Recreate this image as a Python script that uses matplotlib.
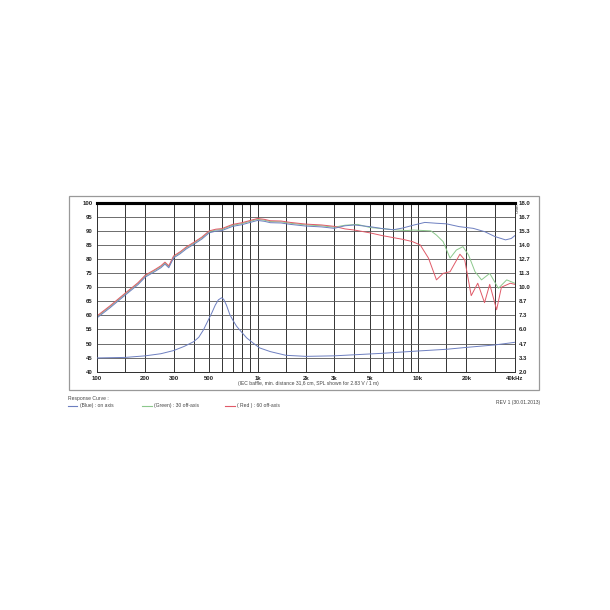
import numpy as np
import matplotlib.pyplot as plt
from matplotlib.patches import Rectangle

plt.rcParams['font.family'] = ['Liberation Sans', 'DejaVu Sans']

# SPL, common part of the three curves (Hz, dB)
low_freq = [100, 120, 150, 180, 200, 230, 250, 265, 280, 300, 330, 360, 400, 450, 500,
            550, 600, 650, 700, 800, 900, 1000, 1100, 1200, 1400, 1600, 2000, 2500, 3000]
low_spl = [59.5, 63.0, 67.6, 71.3, 74.0, 76.0, 77.3, 78.6, 77.3, 80.8, 82.3, 84.0, 85.6, 87.5, 89.7,
           90.3, 90.5, 91.3, 92.0, 92.6, 93.4, 94.1, 93.8, 93.3, 93.2, 92.7, 92.1, 91.8, 91.3]

# on axis (blue)
blue_freq = [3500, 4000, 5000, 6000, 7000, 8000, 9300, 11000, 13000, 15000, 18000,
             22000, 26000, 30000, 35000, 38000, 40000]
blue_spl = [91.8, 92.1, 91.5, 90.8, 90.4, 91.0, 92.0, 93.0, 92.7, 92.5, 91.5,
            90.9, 89.7, 88.0, 86.8, 87.3, 88.3]

# 30 deg off axis (green)
green_freq = [3500, 4200, 5000, 6000, 7000, 8500, 9300, 11000, 12000, 13000, 14300, 15800,
              17300, 19000, 20600, 22600, 24800, 27900, 31600, 35600, 40000]
green_spl = [92.0, 92.3, 91.2, 90.8, 90.4, 90.1, 90.3, 90.1, 90.0, 88.5, 86.2, 80.3,
             83.2, 84.4, 81.4, 75.5, 72.6, 74.9, 69.6, 72.6, 71.4]

# 60 deg off axis (red)
red_freq = [3500, 4000, 5000, 6000, 7000, 8000, 9200, 10300, 11600, 13000, 14300, 15800,
            18200, 19500, 21400, 23500, 25900, 27900, 30800, 33000, 37500, 40000]
red_spl = [90.7, 90.3, 89.3, 88.3, 87.6, 87.0, 86.2, 85.0, 80.3, 72.6, 74.9, 75.5,
           81.7, 79.7, 67.0, 71.4, 64.5, 71.0, 62.0, 70.0, 71.4, 71.0]

# impedance (ohm)
imp_freq = [100, 150, 200, 250, 300, 350, 400, 430, 460, 490, 520, 545, 570, 597, 615, 640,
            672, 700, 740, 800, 855, 940, 1030, 1200, 1500, 2000, 3000, 6000, 10000, 15000,
            20000, 30000, 40000]
imp_ohm = [3.3, 3.35, 3.5, 3.7, 4.0, 4.4, 4.84, 5.25, 5.95, 6.8, 7.6, 8.3, 8.8, 9.0, 8.85, 8.3,
           7.4, 6.9, 6.3, 5.7, 5.2, 4.7, 4.25, 3.9, 3.55, 3.45, 3.5, 3.74, 3.96, 4.12,
           4.3, 4.53, 4.78]

grid_freq = [100, 150, 200, 300, 400, 500, 600, 700, 800, 900, 1000, 1500, 2000, 3000, 4000,
             5000, 6000, 7000, 8000, 9000, 10000, 15000, 20000, 30000, 40000]
xtick_freq = [100, 200, 300, 500, 1000, 2000, 3000, 5000, 10000, 20000, 40000]
xtick_labels = ['100', '200', '300', '500', '1k', '2k', '3k', '5k', '10k', '20k', '40kHz']
ohm_ticks = ['2.0', '3.3', '4.7', '6.0', '7.3', '8.7', '10.0', '11.3', '12.7', '14.0',
             '15.3', '16.7', '18.0']

c_blue = '#6d7fc0'
c_green = '#8cc88c'
c_red = '#e05a68'
c_text = '#444444'

fig = plt.figure(figsize=(6.1, 6.1), dpi=100)

# outer frame
fig.patches.append(Rectangle((0.113, 0.3607), 0.770, 0.318, transform=fig.transFigure,
                             fill=False, edgecolor='#999999', linewidth=0.9))

ax = fig.add_axes([0.159, 0.3907, 0.685, 0.277])
ax.set_xscale('log')
ax.set_xlim(100, 40000)
ax.set_ylim(40, 100)

for f in grid_freq:
    ax.axvline(f, color='#333333', linewidth=0.7, zorder=1)
for v in range(45, 100, 5):
    ax.axhline(v, color='#555555', linewidth=0.6, zorder=1)

ax2 = ax.twinx()
ax2.set_ylim(2, 18)
ax2.plot(imp_freq, imp_ohm, color=c_blue, linewidth=0.7, zorder=3)

ax.plot(low_freq + green_freq, low_spl + green_spl, color=c_green, linewidth=0.7, zorder=3)
ax.plot(low_freq + red_freq, [v + 0.3 for v in low_spl] + red_spl, color=c_red,
        linewidth=0.7, zorder=4)
ax.plot(low_freq + blue_freq, [v - 0.4 for v in low_spl] + blue_spl, color=c_blue,
        linewidth=0.7, zorder=5)

ax.set_xticks(xtick_freq)
ax.set_xticklabels(xtick_labels)
ax.xaxis.set_minor_locator(plt.NullLocator())
ax.set_yticks(range(40, 101, 5))
ax2.set_yticks(np.linspace(2, 18, 13))
ax2.set_yticklabels(ohm_ticks)
for a in (ax, ax2):
    a.tick_params(length=0, labelsize=4.3, labelcolor='#222222', pad=3)
    for lab in a.get_xticklabels() + a.get_yticklabels():
        lab.set_fontweight('bold')
    for s in ('left', 'right', 'bottom'):
        a.spines[s].set_linewidth(0.7)
        a.spines[s].set_color('#333333')
    a.spines['top'].set_linewidth(2.2)
    a.spines['top'].set_color('black')

ax2.text(1.003, 0.965, 'Ohm', transform=ax.transAxes, rotation=90, fontsize=3.2,
         color='#333333', ha='left', va='center')

fig.text(0.505, 0.3705, '(IEC baffle, min. distance 31,6 cm, SPL shown for 2.83 V / 1 m)',
         fontsize=3.6, color=c_text, ha='center', va='center')

fig.text(0.111, 0.3475, 'Response Curve :', fontsize=3.6, color=c_text, va='center')
legend_items = [(0.111, c_blue, '(Blue) : on axis'),
                (0.233, c_green, '(Green) : 30 off-axis'),
                (0.369, c_red, '( Red ) : 60 off-axis')]
for x0, col, lab in legend_items:
    fig.add_artist(plt.Line2D([x0, x0 + 0.016], [0.3345, 0.3345], color=col, linewidth=0.8,
                              transform=fig.transFigure))
    fig.text(x0 + 0.02, 0.3345, lab, fontsize=3.6, color=c_text, va='center')
fig.text(0.885, 0.3395, 'REV 1 (30.01.2013)', fontsize=3.6, color=c_text, ha='right',
         va='center')

fig.savefig('out.png', dpi=100)
